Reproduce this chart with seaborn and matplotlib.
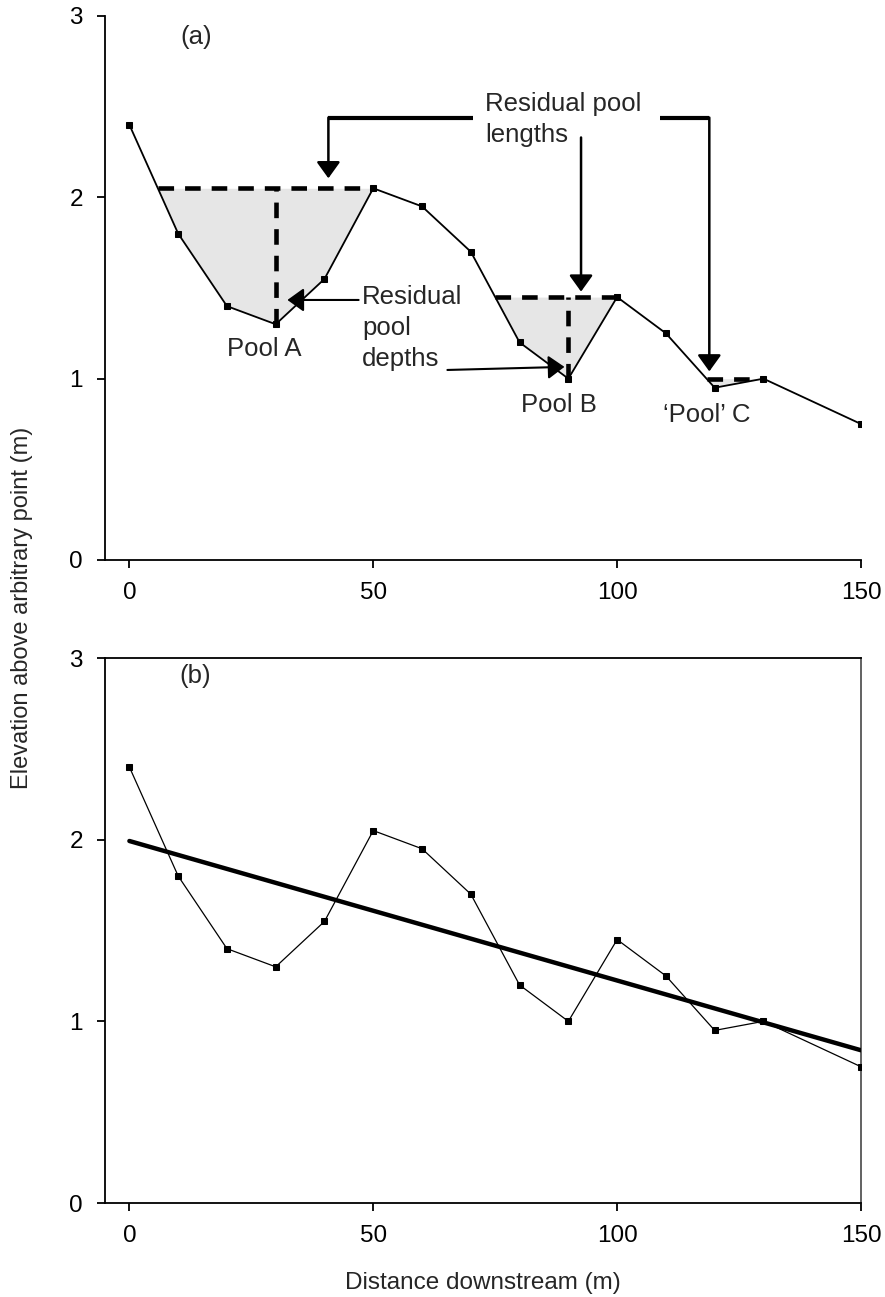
import numpy as np
import pandas as pd
import matplotlib
matplotlib.use("Agg")
import matplotlib.pyplot as plt
import seaborn as sns

# ---- data ----
distance = [0, 10, 20, 30, 40, 50, 60, 70, 80, 90, 100, 110, 120, 130, 150]
elevation = [2.4, 1.8, 1.4, 1.3, 1.55, 2.05, 1.95, 1.7, 1.2, 1.0, 1.45, 1.25, 0.95, 1.0, 0.75]
x_ticks = [0, 50, 100, 150]
y_ticks = [0, 1, 2, 3]
# pools: (riffle-crest level, x of pool bottom, x of downstream crest, label)
pool_levels = [2.05, 1.45, 1.0]
pool_bottoms = [30, 90, 120]
pool_crests = [50, 100, 130]
pool_labels = ["Pool A", "Pool B", "\u2018Pool\u2019 C"]

df = pd.DataFrame({"Distance": distance, "Elevation": elevation})

sns.set_style("ticks")
plt.rcParams["font.family"] = ["Liberation Sans", "DejaVu Sans"]
plt.rcParams["font.size"] = 17

FS_TICK = 17.5
FS_ANN = 18.5

fig = plt.figure(figsize=(8.85, 12.97), dpi=100)
W, H = 885, 1297
def axrect(l, t, r, b):
    return [l / W, 1 - b / H, (r - l) / W, (b - t) / H]

ax1 = fig.add_axes(axrect(105, 16, 861, 560))
ax2 = fig.add_axes(axrect(105, 658, 861, 1203))

for ax in (ax1, ax2):
    ax.set_xlim(-5, 150)
    ax.set_ylim(0, 3)
    ax.set_xticks(x_ticks)
    ax.set_yticks(y_ticks)
    ax.tick_params(axis="both", direction="out", length=6, width=1.3,
                   labelsize=FS_TICK, pad=10, colors="black")
    for s in ax.spines.values():
        s.set_linewidth(1.3)
        s.set_color("black")

ax1.spines["top"].set_visible(False)
ax1.spines["right"].set_visible(False)
ax2.spines["right"].set_color("#555555")

# ---- panel (a) ----
xs = np.array(distance, dtype=float)
ys = np.array(elevation, dtype=float)
for lvl, xb, xc in zip(pool_levels, pool_bottoms, pool_crests):
    i0 = max(i for i in range(len(xs)) if xs[i] < xb and ys[i] >= lvl)
    xstart = xs[i0] + (ys[i0] - lvl) / (ys[i0] - ys[i0 + 1]) * (xs[i0 + 1] - xs[i0])
    inner = [x for x in xs if xstart < x < xc]
    xfill = np.array([xstart] + inner + [xc])
    yfill = np.interp(xfill, xs, ys)
    ax1.fill_between(xfill, yfill, lvl, color="#e6e6e6", lw=0, zorder=1)
    ax1.plot([xstart, xc], [lvl, lvl], color="black", lw=3.3,
             linestyle=(0, (3.4, 2.4)), zorder=3, solid_capstyle="butt")
    if xc - xstart > 20:
        yb = np.interp(xb, xs, ys)
        ax1.plot([xb, xb], [yb, lvl], color="black", lw=3.3,
                 linestyle=(0, (3.4, 2.4)), zorder=3)

sns.lineplot(data=df, x="Distance", y="Elevation", ax=ax1, color="black",
             lw=1.3, marker="s", markersize=4, markeredgecolor="black",
             zorder=4, errorbar=None)
ax1.set_xlabel("")
ax1.set_ylabel("")

ax1.text(13.7, 2.885, "(a)", ha="center", va="center", fontsize=FS_ANN)
ax1.text(27.7, 1.165, pool_labels[0], ha="center", va="center", fontsize=FS_ANN)
ax1.text(88, 0.855, pool_labels[1], ha="center", va="center", fontsize=FS_ANN)
ax1.text(118.4, 0.80, pool_labels[2], ha="center", va="center", fontsize=FS_ANN)

ax1.text(47.7, 1.515, "Residual\npool\ndepths", ha="left", va="top",
         fontsize=FS_ANN, linespacing=1.36)
ax1.text(73, 2.43, "Residual pool\nlengths", ha="left", va="center",
         fontsize=FS_ANN, linespacing=1.36)

arrow = dict(arrowstyle="-|>,head_length=0.5,head_width=0.36",
             mutation_scale=20, color="black", shrinkA=0, shrinkB=0)
# depth arrows
ax1.annotate("", xy=(32.4, 1.434), xytext=(47, 1.434),
             arrowprops=dict(arrow, lw=1.5), zorder=5)
ax1.annotate("", xy=(89.2, 1.065), xytext=(65.2, 1.048),
             arrowprops=dict(arrow, lw=1.5), zorder=5)
# length arrows
ax1.plot([40.8, 70.5], [2.44, 2.44], color="black", lw=3, solid_capstyle="butt")
ax1.plot([108.8, 118.9], [2.44, 2.44], color="black", lw=3, solid_capstyle="butt")
ax1.annotate("", xy=(40.8, 2.105), xytext=(40.8, 2.44),
             arrowprops=dict(arrow, lw=1.8), zorder=5)
ax1.annotate("", xy=(92.6, 1.48), xytext=(92.6, 2.33),
             arrowprops=dict(arrow, lw=1.8), zorder=5)
ax1.annotate("", xy=(118.9, 1.04), xytext=(118.9, 2.44),
             arrowprops=dict(arrow, lw=1.8), zorder=5)

# ---- panel (b) ----
sns.lineplot(data=df, x="Distance", y="Elevation", ax=ax2, color="black",
             lw=0.9, marker="s", markersize=4.5, markeredgecolor="black",
             zorder=4, errorbar=None)
sns.regplot(data=df, x="Distance", y="Elevation", ax=ax2, scatter=False,
            ci=None, truncate=True, line_kws=dict(color="black", lw=3.2, zorder=5))
ax2.set_xlim(-5, 150)
ax2.set_ylim(0, 3)
ax2.set_xlabel("")
ax2.set_ylabel("")
ax2.text(13.4, 2.9, "(b)", ha="center", va="center", fontsize=FS_ANN)

fig.text(22 / W, 1 - 608 / H, "Elevation above arbitrary point (m)",
         rotation=90, ha="center", va="center", fontsize=17)
fig.text(483 / W, 1 - 1283 / H, "Distance downstream (m)",
         ha="center", va="center", fontsize=17.5)

fig.savefig("out.png", dpi=100)
